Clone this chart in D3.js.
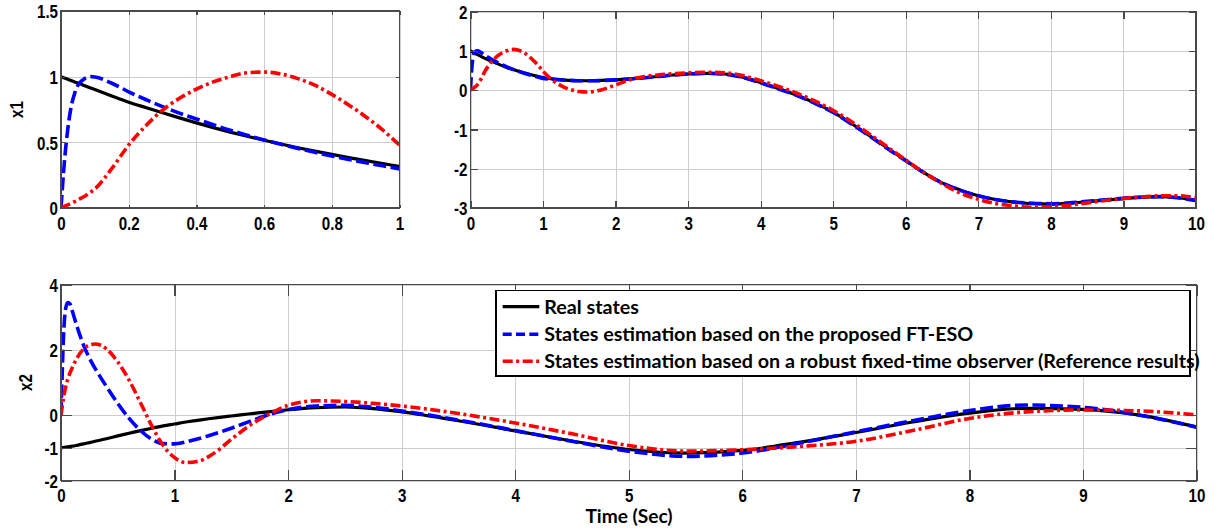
<!DOCTYPE html>
<html>
<head>
<meta charset="utf-8">
<script src="https://cdn.jsdelivr.net/npm/d3@7"></script>
<style>
  body { margin: 0; background: #fff; }
  svg { display: block; }
</style>
</head>
<body>
<svg id="fig" width="1221" height="531"></svg>
<script>
// ---------- data: state x1 ----------
const tX1 = [0, 0.01, 0.02, 0.03, 0.04, 0.05, 0.07, 0.09, 0.1,
  0.15, 0.2, 0.25, 0.3, 0.35, 0.4, 0.45, 0.5, 0.55, 0.6, 0.65, 0.7, 0.75, 0.8, 0.85, 0.9, 0.95, 1.0,
  1.1, 1.2, 1.3, 1.4, 1.5, 1.6, 1.7, 1.8,
  2.0, 2.2, 2.4, 2.6, 2.8, 3.0,
  3.25, 3.5, 3.75, 4.0, 4.25, 4.5, 4.75, 5.0, 5.25, 5.5, 5.75, 6.0, 6.25, 6.5, 6.75,
  7.0, 7.25, 7.5, 7.75, 8.0, 8.25, 8.5, 8.75, 9.0, 9.25, 9.5, 9.75, 10];

const x1Real = [1.0, 0.99, 0.98, 0.97, 0.96, 0.951, 0.931, 0.912, 0.902,
  0.853, 0.806, 0.765, 0.725, 0.686, 0.648, 0.612, 0.578, 0.546, 0.516, 0.487, 0.459, 0.433, 0.408, 0.384, 0.361, 0.339, 0.318,
  0.292, 0.271, 0.256, 0.246, 0.240, 0.238, 0.240, 0.245,
  0.260, 0.285, 0.315, 0.350, 0.385, 0.410,
  0.428, 0.410, 0.330, 0.190, 0.035, -0.130, -0.330, -0.560, -0.850, -1.160, -1.480, -1.790, -2.100, -2.360, -2.540,
  -2.690, -2.790, -2.850, -2.890, -2.900, -2.880, -2.840, -2.800, -2.760, -2.730, -2.710, -2.740, -2.800];

const x1FTESO = [0, 0.35, 0.6, 0.77, 0.87, 0.935, 0.985, 1.0, 0.998,
  0.95, 0.885, 0.826, 0.772, 0.722, 0.678, 0.634, 0.592, 0.554, 0.518, 0.485, 0.454, 0.424, 0.396, 0.37, 0.345, 0.321, 0.298,
  0.278, 0.262, 0.25, 0.242, 0.238, 0.237, 0.239, 0.244,
  0.259, 0.284, 0.315, 0.35, 0.385, 0.41,
  0.428, 0.408, 0.326, 0.184, 0.028, -0.138, -0.34, -0.57, -0.86, -1.17, -1.49, -1.8, -2.1, -2.36, -2.55,
  -2.69, -2.79, -2.85, -2.88, -2.89, -2.87, -2.83, -2.79, -2.75, -2.72, -2.71, -2.74, -2.81];

const x1Ref = [0, 0.012, 0.024, 0.036, 0.048, 0.062, 0.09, 0.125, 0.145,
  0.3, 0.48, 0.625, 0.745, 0.835, 0.905, 0.96, 1.0, 1.03, 1.035, 1.02, 0.985, 0.935, 0.865, 0.785, 0.695, 0.595, 0.48,
  0.3, 0.165, 0.065, 0.005, -0.035, -0.048, -0.035, 0.005,
  0.13, 0.265, 0.345, 0.39, 0.42, 0.44,
  0.455, 0.44, 0.37, 0.24, 0.09, -0.08, -0.28, -0.52, -0.8, -1.12, -1.45, -1.78, -2.1, -2.38, -2.62,
  -2.78, -2.89, -2.95, -2.98, -2.97, -2.93, -2.87, -2.81, -2.76, -2.72, -2.69, -2.69, -2.74];

// ---------- data: state x2 ----------
const tX2 = [0, 0.01, 0.02, 0.03, 0.04, 0.06, 0.08, 0.1,
  0.15, 0.2, 0.25, 0.3, 0.35, 0.4,
  0.5, 0.6, 0.7, 0.8, 0.9, 1.0, 1.1, 1.2, 1.3, 1.4, 1.5, 1.6, 1.7, 1.8, 1.9, 2.0,
  2.25, 2.5, 2.75, 3.0,
  3.5, 4.0, 4.5, 5.0, 5.5, 6.0, 6.5, 7.0, 7.5, 8.0, 8.5, 9.0, 9.5, 10];

const x2Real = [-1.0, -0.995, -0.99, -0.985, -0.98, -0.97, -0.96, -0.95,
  -0.915, -0.88, -0.84, -0.8, -0.76, -0.72,
  -0.635, -0.555, -0.475, -0.4, -0.33, -0.27, -0.21, -0.16, -0.11, -0.065, -0.025, 0.015, 0.055, 0.095, 0.13, 0.165,
  0.23, 0.25, 0.2, 0.1,
  -0.17, -0.48, -0.79, -1.05, -1.16, -1.08, -0.83, -0.53, -0.21, 0.06, 0.21, 0.18, 0.0, -0.36];

const x2FTESO = [0, 1.2, 2.25, 2.9, 3.25, 3.45, 3.4, 3.18,
  2.62, 2.13, 1.75, 1.43, 1.15, 0.88,
  0.36, -0.1, -0.47, -0.74, -0.87, -0.88, -0.82, -0.73, -0.63, -0.52, -0.4, -0.27, -0.14, -0.02, 0.09, 0.17,
  0.28, 0.3, 0.24, 0.13,
  -0.15, -0.47, -0.8, -1.1, -1.26, -1.16, -0.86, -0.51, -0.17, 0.14, 0.31, 0.24, 0.0, -0.37];

const x2Ref = [0, 0.25, 0.48, 0.68, 0.85, 1.1, 1.3, 1.46,
  1.8, 2.03, 2.15, 2.18, 2.14, 2.03,
  1.63, 1.07, 0.38, -0.33, -0.93, -1.3, -1.45, -1.42, -1.27, -1.03, -0.74, -0.47, -0.23, -0.03, 0.15, 0.3,
  0.44, 0.42, 0.36, 0.28,
  0.05, -0.24, -0.57, -0.93, -1.1, -1.06, -0.96, -0.8, -0.47, -0.1, 0.1, 0.16, 0.13, 0.01];

// ---------- ticks and labels ----------
const xTicksZoom = [0, 0.2, 0.4, 0.6, 0.8, 1];
const xTicksFull = [0, 1, 2, 3, 4, 5, 6, 7, 8, 9, 10];
const yTicksX1Zoom = [0, 0.5, 1, 1.5];
const yTicksX1 = [-3, -2, -1, 0, 1, 2];
const yTicksX2 = [-2, -1, 0, 2, 4];
const legendLabels = [
  "Real states",
  "States estimation based on the proposed FT-ESO",
  "States estimation based on a robust fixed-time observer (Reference results)"
];
const xAxisTitle = "Time (Sec)";

// ---------- styles ----------
const seriesStyle = [
  { color: "#000000", width: 3.2, dash: null,            legendDash: null },
  { color: "#0000ff", width: 3.6, dash: "13,4.5",        legendDash: "9,4.3" },
  { color: "#ff0000", width: 3.6, dash: "10,3.5,3,3.5",  legendDash: "10,3.5,3,3.5" }
];
const tickFont = "'Liberation Sans', Arial, Helvetica, sans-serif";
const textFont = "Lato, 'Open Sans', sans-serif";
const boxColor = "#4a4a4a";
const gridColor = "#cdcdcd";

const svg = d3.select("#fig");
svg.append("rect").attr("width", 1221).attr("height", 531).attr("fill", "#fff");
const defs = svg.append("defs");

function styleTickText(sel, kind) {
  sel.attr("font-family", tickFont).attr("font-weight", "bold")
     .attr("font-size", 18).attr("fill", "#000");
  if (kind === "bottom") {
    sel.attr("y", 0).attr("dy", 0).attr("text-anchor", "middle")
       .attr("transform", "translate(0,21.5) scale(0.84,1.04)");
  } else {
    sel.attr("x", 0).attr("dy", 0).attr("text-anchor", "end")
       .attr("transform", "translate(-3,6.7) scale(0.84,1.04)");
  }
}

function drawPanel(cfg) {
  const g = svg.append("g");
  const x = d3.scaleLinear().domain(cfg.xDomain).range([cfg.left, cfg.right]);
  const y = d3.scaleLinear().domain(cfg.yDomain).range([cfg.bottom, cfg.top]);
  const w = cfg.right - cfg.left, h = cfg.bottom - cfg.top;

  defs.append("clipPath").attr("id", "clip-" + cfg.id)
    .append("rect").attr("x", cfg.left).attr("y", cfg.top).attr("width", w).attr("height", h);

  // grid
  const gx = g.append("g").attr("transform", `translate(0,${cfg.bottom})`)
    .call(d3.axisBottom(x).tickValues(cfg.xTicks).tickSize(-h).tickFormat(""));
  const gy = g.append("g").attr("transform", `translate(${cfg.left},0)`)
    .call(d3.axisLeft(y).tickValues(cfg.yTicks).tickSize(-w).tickFormat(""));
  [gx, gy].forEach(a => {
    a.select(".domain").remove();
    a.selectAll("line").attr("stroke", gridColor).attr("stroke-width", 1)
      .attr("shape-rendering", "crispEdges");
  });

  // curves
  const lines = g.append("g").attr("clip-path", `url(#clip-${cfg.id})`);
  cfg.series.forEach((vals, i) => {
    const st = seriesStyle[i];
    const line = d3.line()
      .x((d, k) => x(cfg.t[k]))
      .y(d => y(d))
      .curve(d3.curveMonotoneX);
    lines.append("path")
      .attr("d", line(vals))
      .attr("fill", "none")
      .attr("stroke", st.color)
      .attr("stroke-width", st.width)
      .attr("stroke-dasharray", st.dash)
      .attr("stroke-linejoin", "round");
  });

  // axes box
  g.append("rect").attr("x", cfg.left).attr("y", cfg.top).attr("width", w).attr("height", h)
    .attr("fill", "none").attr("stroke", boxColor).attr("stroke-width", 1.4)
    .attr("shape-rendering", "crispEdges");

  // inward ticks on all four sides, labels on bottom and left
  const tl = cfg.tickLen;
  const axB = g.append("g").attr("transform", `translate(0,${cfg.bottom})`)
    .call(d3.axisBottom(x).tickValues(cfg.xTicks).tickSizeInner(-tl).tickSizeOuter(0).tickFormat(d => String(d)));
  const axT = g.append("g").attr("transform", `translate(0,${cfg.top})`)
    .call(d3.axisTop(x).tickValues(cfg.xTicks).tickSizeInner(-tl).tickSizeOuter(0).tickFormat(""));
  const axL = g.append("g").attr("transform", `translate(${cfg.left},0)`)
    .call(d3.axisLeft(y).tickValues(cfg.yTicks).tickSizeInner(-tl).tickSizeOuter(0).tickFormat(d => String(d)));
  const axR = g.append("g").attr("transform", `translate(${cfg.right},0)`)
    .call(d3.axisRight(y).tickValues(cfg.yTicks).tickSizeInner(-tl).tickSizeOuter(0).tickFormat(""));
  [axB, axT, axL, axR].forEach(a => {
    a.select(".domain").remove();
    a.selectAll("line").attr("stroke", boxColor).attr("stroke-width", 1.2)
      .attr("shape-rendering", "crispEdges");
  });
  styleTickText(axB.selectAll("text"), "bottom");
  styleTickText(axL.selectAll("text"), "left");

  if (cfg.yLabel) {
    g.append("text")
      .attr("transform", `translate(${cfg.yLabelX},${(cfg.top + cfg.bottom) / 2}) rotate(-90) scale(0.84,1.04)`)
      .attr("text-anchor", "middle")
      .attr("font-family", tickFont).attr("font-weight", "bold").attr("font-size", 18)
      .text(cfg.yLabel);
  }
  return { x, y };
}

// x1 close-up over the first second
drawPanel({
  id: "x1zoom", left: 61, right: 399.5, top: 11, bottom: 208,
  xDomain: [0, 1], yDomain: [0, 1.5], xTicks: xTicksZoom, yTicks: yTicksX1Zoom,
  tickLen: 3.5, t: tX1, series: [x1Real, x1FTESO, x1Ref],
  yLabel: "x1", yLabelX: 23
});

// x1 over the full horizon
drawPanel({
  id: "x1full", left: 470.5, right: 1196, top: 11.5, bottom: 208,
  xDomain: [0, 10], yDomain: [-3, 2], xTicks: xTicksFull, yTicks: yTicksX1,
  tickLen: 7, t: tX1, series: [x1Real, x1FTESO, x1Ref]
});

// x2 over the full horizon
drawPanel({
  id: "x2full", left: 61, right: 1196.5, top: 284.5, bottom: 480.5,
  xDomain: [0, 10], yDomain: [-2, 4], xTicks: xTicksFull, yTicks: yTicksX2,
  tickLen: 11, t: tX2, series: [x2Real, x2FTESO, x2Ref],
  yLabel: "x2", yLabelX: 32
});

// x-axis title
const title = svg.append("text")
  .attr("x", 629).attr("y", 523).attr("text-anchor", "middle")
  .attr("font-family", textFont).attr("font-weight", "bold").attr("font-size", 20)
  .text(xAxisTitle);

// legend
const leg = svg.append("g");
leg.append("rect").attr("x", 496).attr("y", 290.5).attr("width", 694).attr("height", 85.5)
  .attr("fill", "#fff").attr("stroke", "#000").attr("stroke-width", 1.2)
  .attr("shape-rendering", "crispEdges");
const rowY = [306.7, 334.3, 361.2];
const legTexts = [];
legendLabels.forEach((lab, i) => {
  const st = seriesStyle[i];
  leg.append("line").attr("x1", 502.7).attr("x2", 539.3).attr("y1", rowY[i]).attr("y2", rowY[i])
    .attr("stroke", st.color).attr("stroke-width", st.width).attr("stroke-dasharray", st.legendDash);
  legTexts.push(leg.append("text").attr("x", 544.3).attr("y", rowY[i] + 6.8)
    .attr("font-family", textFont).attr("font-weight", "bold").attr("font-size", 20)
    .text(lab));
});
// size the text face so the longest entry spans its measured width
const longLen = legTexts[2].node().getComputedTextLength();
const fs = 20 * 656 / longLen;
legTexts.forEach(t => t.attr("font-size", fs));
title.attr("font-size", fs * 0.97);
</script>
</body>
</html>
